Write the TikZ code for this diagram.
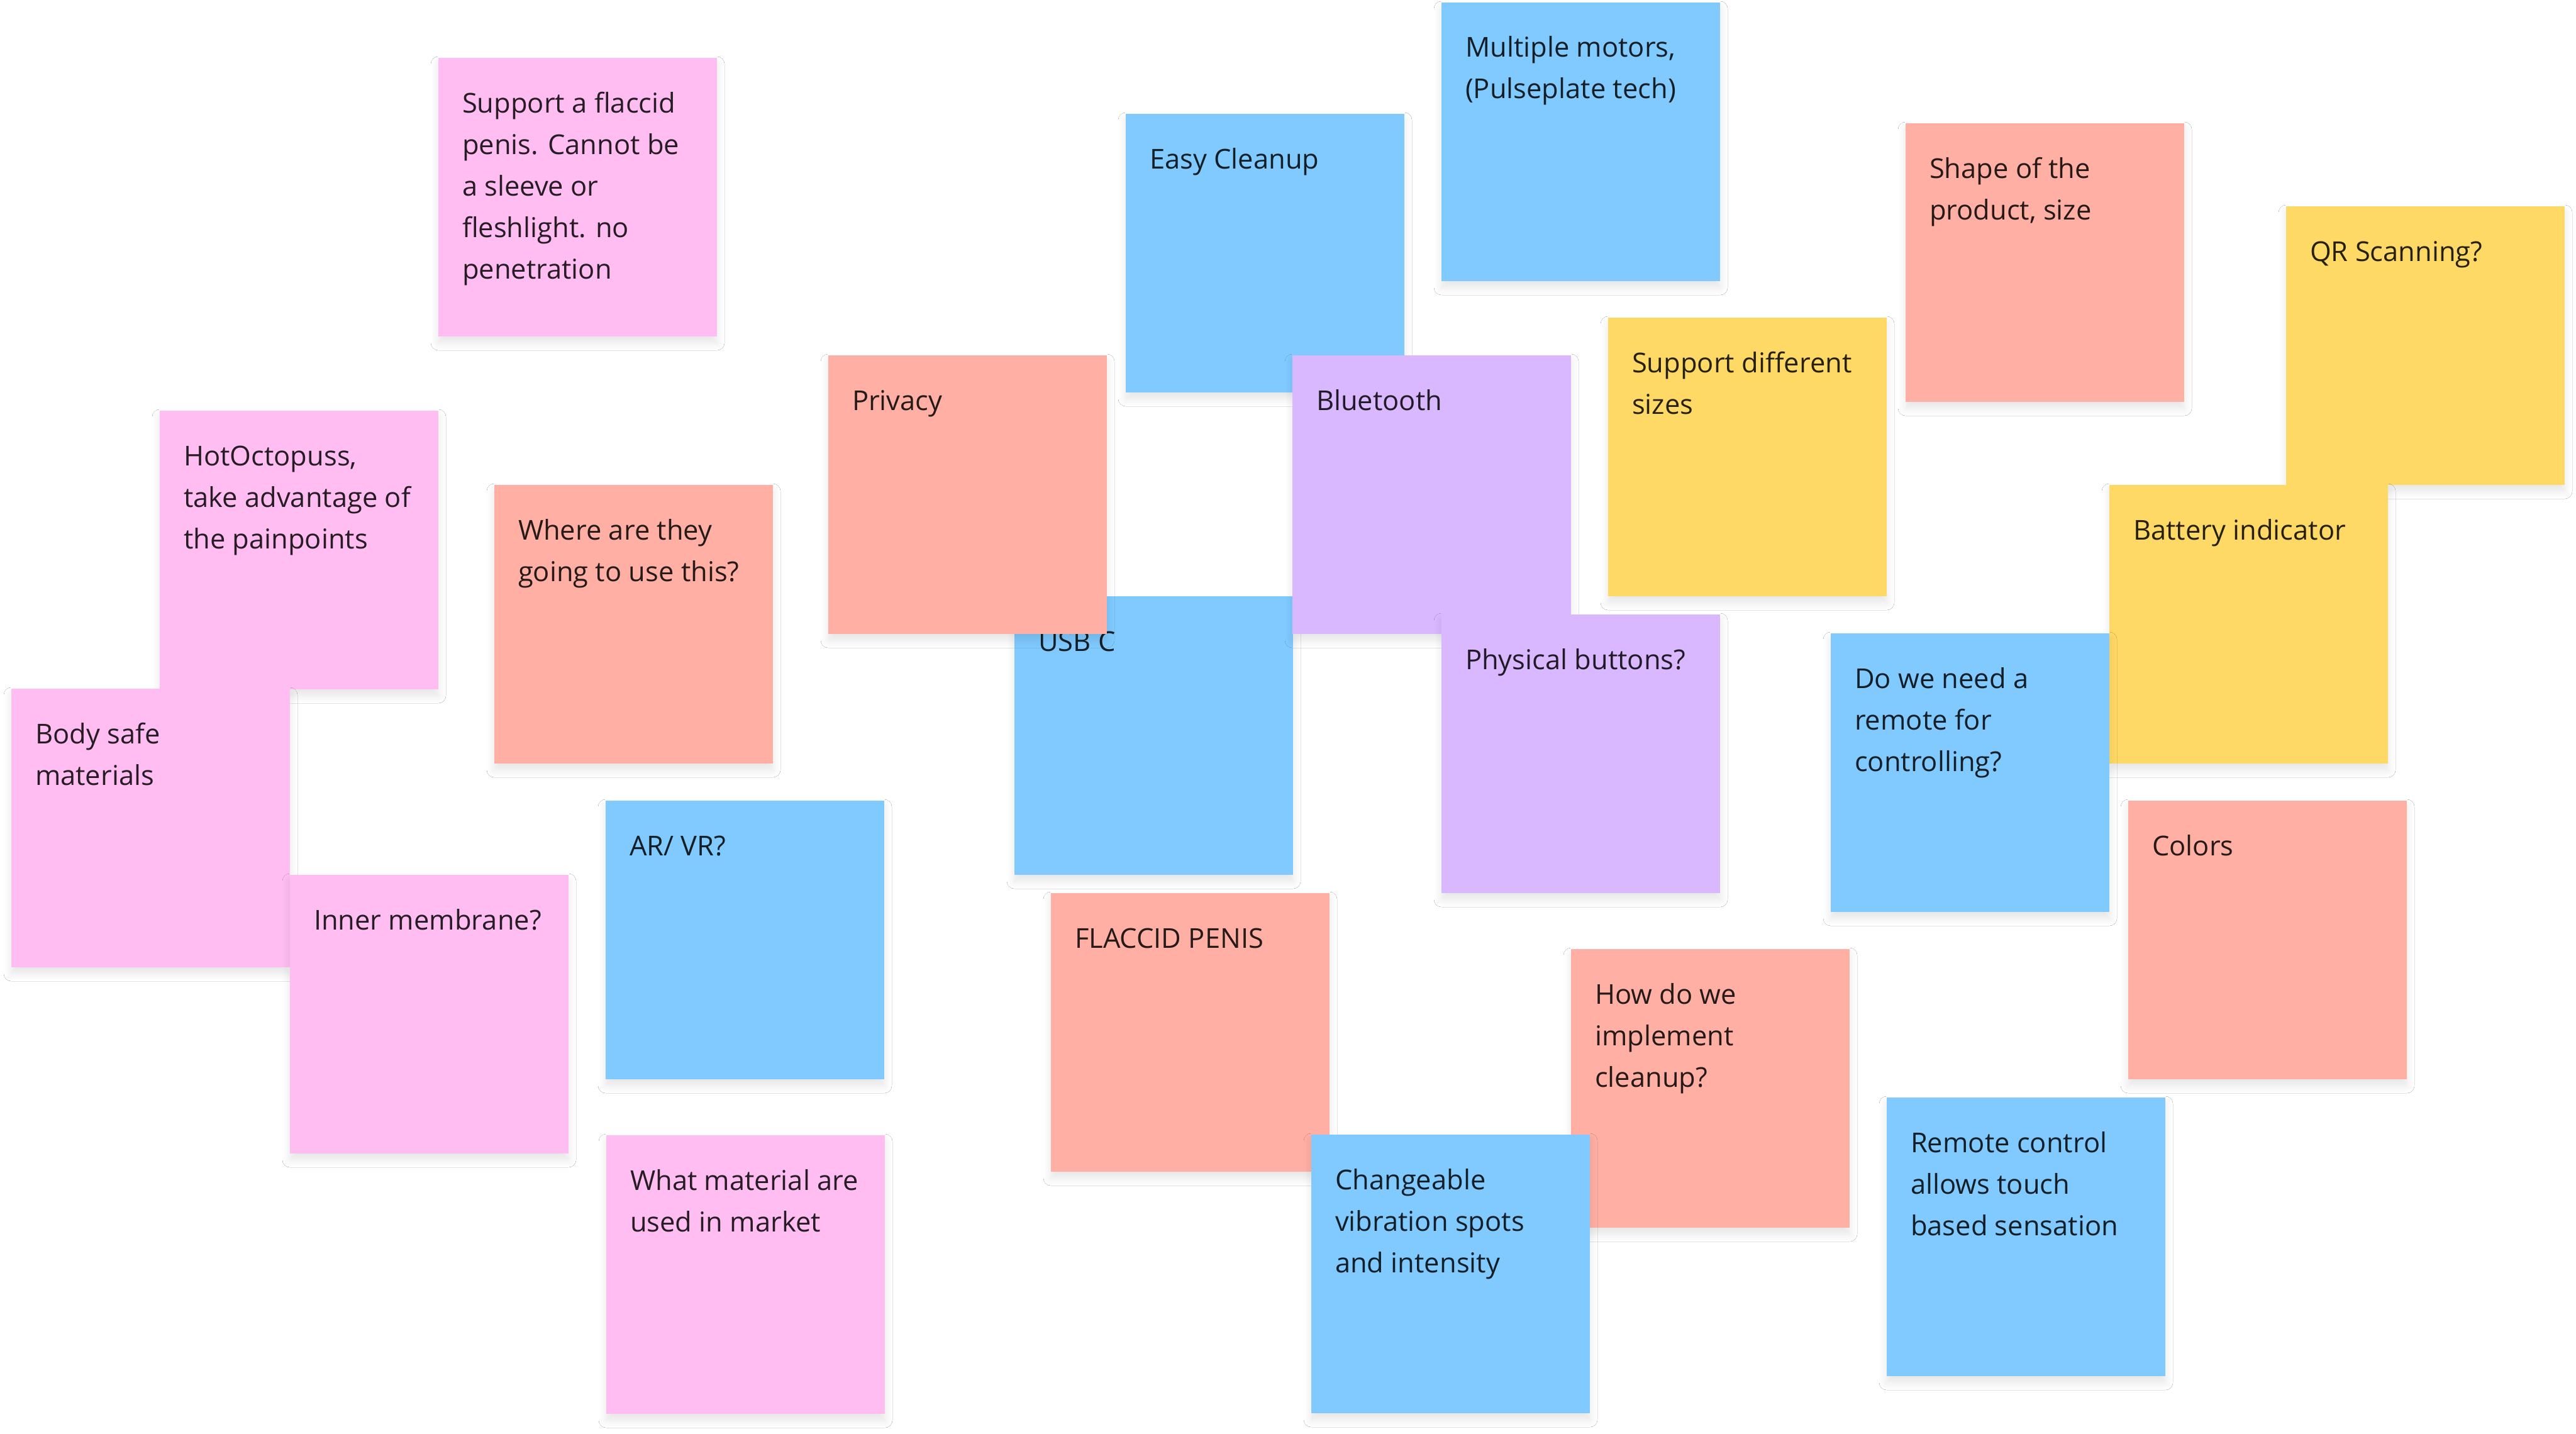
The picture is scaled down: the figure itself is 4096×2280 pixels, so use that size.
\documentclass[tikz,border=0pt]{standalone}
\usepackage{fontspec}
\setmainfont{Open Sans}
\usetikzlibrary{shadows.blur}
\definecolor{stpink}{HTML}{FFBDF2}
\definecolor{stred}{HTML}{FFAFA3}
\definecolor{stblue}{HTML}{80CAFF}
\definecolor{stviolet}{HTML}{D9B8FF}
\definecolor{styellow}{HTML}{FFD966}
\newcommand\mysticky[5]{%
  \node[stickybox, fill=#4] (#1) at (#2,#3) {};
  \node[stickytext] (#1t) at ([xshift=38pt,yshift=-87pt]#1.north west) {\parbox[t]{600pt}{\raggedright #5}};
}
\begin{document}
\begin{tikzpicture}[x=1pt,y=-1pt,
  stickybox/.style={anchor=north west, minimum width=443pt, minimum height=443pt, inner sep=0pt, outer sep=0pt, draw=none,
    blur shadow={shadow xshift=0pt, shadow yshift=-10pt, shadow blur radius=12pt, shadow opacity=10, shadow blur steps=8}},
  stickytext/.style={anchor=base west, inner sep=0pt, outer sep=0pt, text=black, text opacity=0.85, font=\fontsize{43.5}{66}\selectfont}]
\useasboundingbox (0,0) rectangle (4096,2280);
\fill[white] (0,0) rectangle (4096,2280);
\mysticky{s1}{697}{92}{stpink}{Support a flaccid\\penis. Cannot be\\a sleeve or\\fleshlight. no\\penetration}
\mysticky{s2}{254}{653}{stpink}{HotOctopuss,\\take advantage of\\the painpoints}
\mysticky{s3}{18}{1095}{stpink}{Body safe\\materials}
\mysticky{s4}{461}{1391}{stpink}{Inner membrane?}
\mysticky{s5}{964}{1805}{stpink}{What material are\\used in market}
\mysticky{s6}{786}{771}{stred}{Where are they\\going to use this?}
\mysticky{s7}{963}{1273}{stblue}{AR/ VR?}
\mysticky{s8}{1790}{181}{stblue}{Easy Cleanup}
\mysticky{s9}{1613}{948}{stblue}{USB C}
\mysticky{s10}{1317}{565}{stred}{Privacy}
\mysticky{s11}{2055}{565}{stviolet}{Bluetooth}
\mysticky{s12}{2292}{977}{stviolet}{Physical buttons?}
\mysticky{s13}{2292}{4}{stblue}{Multiple motors,\\(Pulseplate tech)}
\mysticky{s14}{2557}{505}{styellow}{Support different\\sizes}
\mysticky{s15}{3030}{196}{stred}{Shape of the\\product, size}
\mysticky{s16}{3635}{328}{styellow}{QR Scanning?}
\mysticky{s17}{3354}{771}{styellow}{Battery indicator}
\mysticky{s18}{2911}{1007}{stblue}{Do we need a\\remote for\\controlling?}
\mysticky{s19}{3384}{1273}{stred}{Colors}
\mysticky{s20}{1671}{1420}{stred}{FLACCID PENIS}
\mysticky{s21}{2498}{1509}{stred}{How do we\\implement\\cleanup?}
\mysticky{s22}{2085}{1804}{stblue}{Changeable\\vibration spots\\and intensity}
\mysticky{s23}{3000}{1745}{stblue}{Remote control\\allows touch\\based sensation}
\end{tikzpicture}
\end{document}
